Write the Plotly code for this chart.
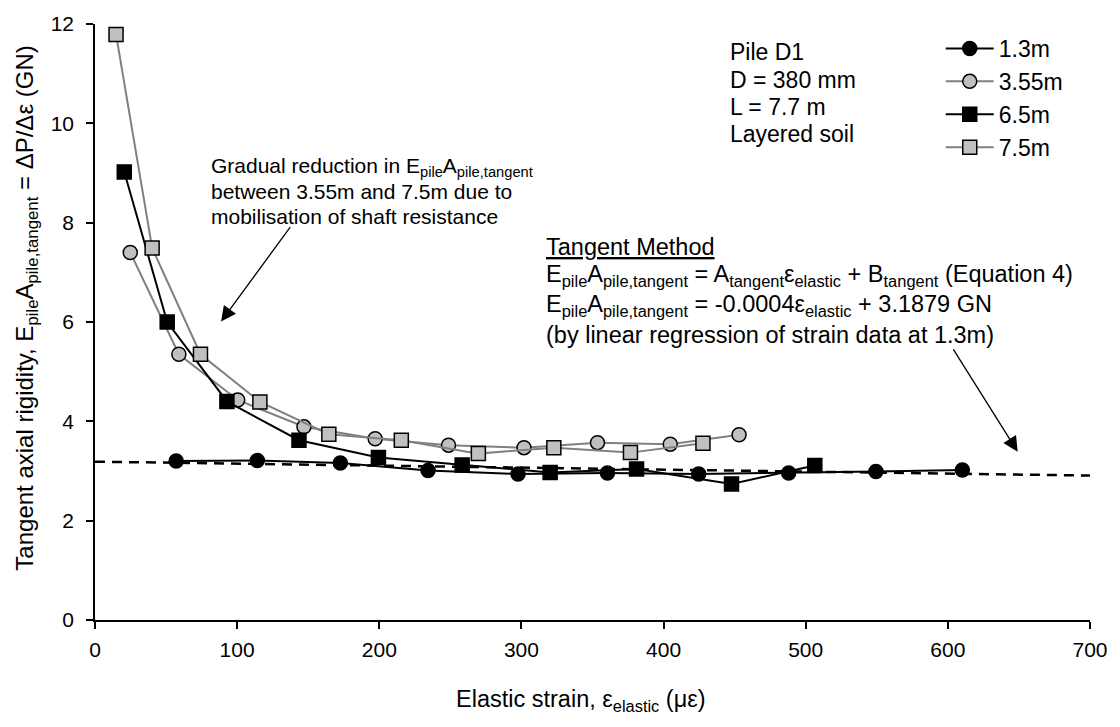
import plotly.graph_objects as go

# ---- data ----
x_13 = [57.1, 114.2, 172.6, 234.3, 297.6, 360.5, 424.7, 488.0, 549.4, 610.2]
y_13 = [3.20, 3.21, 3.16, 3.01, 2.94, 2.96, 2.94, 2.96, 2.99, 3.02]

x_355 = [24.8, 59.0, 100.4, 147.0, 197.1, 248.7, 301.8, 353.5, 404.7, 453.1]
y_355 = [7.40, 5.35, 4.43, 3.89, 3.65, 3.52, 3.47, 3.57, 3.54, 3.73]

x_65 = [20.6, 50.8, 92.8, 143.5, 199.4, 258.3, 320.2, 381.0, 447.8, 506.4]
y_65 = [9.02, 6.00, 4.40, 3.62, 3.27, 3.12, 2.97, 3.04, 2.74, 3.11]

x_75 = [14.8, 40.2, 74.2, 116.0, 164.5, 215.5, 269.7, 322.8, 376.7, 427.7]
y_75 = [11.79, 7.49, 5.35, 4.39, 3.74, 3.62, 3.35, 3.47, 3.37, 3.56]

fit_x = [0, 700]
fit_y = [3.188, 2.908]

series_names = ["1.3m", "3.55m", "6.5m", "7.5m"]
x_ticks = [0, 100, 200, 300, 400, 500, 600, 700]
y_ticks = [0, 2, 4, 6, 8, 10, 12]

FONT = "Arial, 'Liberation Sans', sans-serif"
GRAY_LINE = "#808080"
GRAY_FILL = "#c0c0c0"

fig = go.Figure()

def add_series(xs, ys, name, line_color, symbol, fill):
    fig.add_trace(go.Scatter(
        x=xs, y=ys, name=name, mode="lines+markers", legendgroup=name,
        line=dict(color=line_color, width=2),
        marker=dict(symbol=symbol, size=14, color=fill,
                    line=dict(color="black", width=1.5)),
    ))

add_series(x_13, y_13, series_names[0], "black", "circle", "black")
add_series(x_355, y_355, series_names[1], GRAY_LINE, "circle", GRAY_FILL)
add_series(x_65, y_65, series_names[2], "black", "square", "black")
add_series(x_75, y_75, series_names[3], GRAY_LINE, "square", GRAY_FILL)

fig.add_trace(go.Scatter(
    x=fit_x, y=fit_y, mode="lines", showlegend=False,
    line=dict(color="black", width=2.5, dash="10px,7px"),
))

ann = []
# Pile info
pile_lines = ["Pile D1", "D = 380 mm", "L = 7.7 m", "Layered soil"]
pile_y = [11.44, 10.88, 10.33, 9.79]
for t, yy in zip(pile_lines, pile_y):
    ann.append(dict(x=445, y=yy, xref="x", yref="y", text=t, showarrow=False,
                    xanchor="left", yanchor="middle",
                    font=dict(size=23, color="black", family=FONT)))

# Gradual reduction text
grad_lines = ["Gradual reduction in E<sub>pile</sub>A<sub>pile,tangent</sub>",
              "between 3.55m and 7.5m due to",
              "mobilisation of shaft resistance"]
grad_y = [9.12, 8.62, 8.12]
for t, yy in zip(grad_lines, grad_y):
    ann.append(dict(x=80.1, y=yy, xref="x", yref="y", text=t, showarrow=False,
                    xanchor="left", yanchor="middle",
                    font=dict(size=21, color="black", family=FONT)))

# Tangent method block
tan_lines = ["<u>Tangent Method</u>",
             "E<sub>pile</sub>A<sub>pile,tangent</sub> = A<sub>tangent</sub>ε<sub>elastic</sub> + B<sub>tangent</sub> (Equation 4)",
             "E<sub>pile</sub>A<sub>pile,tangent</sub> = -0.0004ε<sub>elastic</sub> + 3.1879 GN",
             "(by linear regression of strain data at 1.3m)"]
tan_y = [7.52, 6.93, 6.33, 5.74]
for t, yy in zip(tan_lines, tan_y):
    ann.append(dict(x=316.2, y=yy, xref="x", yref="y", text=t, showarrow=False,
                    xanchor="left", yanchor="middle",
                    font=dict(size=23.5, color="black", family=FONT)))

# Arrows
ann.append(dict(x=88.7, y=6.01, ax=138.1, ay=7.94, xref="x", yref="y",
                axref="x", ayref="y", text="", showarrow=True,
                arrowhead=2, arrowsize=2.3, arrowwidth=1.3, arrowcolor="black",
                standoff=0))
ann.append(dict(x=649.1, y=3.39, ax=603.2, ay=5.48, xref="x", yref="y",
                axref="x", ayref="y", text="", showarrow=True,
                arrowhead=2, arrowsize=2.3, arrowwidth=1.3, arrowcolor="black",
                standoff=0))

# Axis titles
ann.append(dict(x=0.488, y=-0.135, xref="paper", yref="paper",
                text="Elastic strain, ε<sub>elastic</sub> (με)", showarrow=False,
                xanchor="center", yanchor="middle",
                font=dict(size=23.5, color="black", family=FONT)))
ann.append(dict(x=-0.069, y=0.523, xref="paper", yref="paper", textangle=-90,
                text="Tangent axial rigidity, E<sub>pile</sub>A<sub>pile,tangent</sub> = ΔP/Δε (GN)",
                showarrow=False, xanchor="center", yanchor="middle",
                font=dict(size=24, color="black", family=FONT)))

fig.update_layout(
    width=1120, height=727,
    margin=dict(l=95, r=22, t=18, b=107),
    paper_bgcolor="white", plot_bgcolor="white",
    font=dict(family=FONT, size=21, color="black"),
    annotations=ann,
    legend=dict(x=0.85, y=0.995, xref="paper", yref="paper",
                xanchor="left", yanchor="top",
                font=dict(size=23, family=FONT, color="black"),
                bgcolor="rgba(0,0,0,0)", borderwidth=0,
                tracegroupgap=0, itemwidth=48),
    xaxis=dict(range=[0, 700], tickvals=x_ticks, showgrid=False, zeroline=False,
               showline=True, linecolor="black", linewidth=1.5,
               ticks="outside", ticklen=7, tickcolor="black", tickwidth=1.5,
               ticklabelstandoff=3,
               tickfont=dict(size=21, family=FONT, color="black")),
    yaxis=dict(range=[0, 12], tickvals=y_ticks, showgrid=False, zeroline=False,
               showline=True, linecolor="black", linewidth=1.5,
               ticks="outside", ticklen=7, tickcolor="black", tickwidth=1.5,
               ticklabelstandoff=8,
               tickfont=dict(size=21, family=FONT, color="black")),
    showlegend=True,
)

fig.write_html("out.html")
